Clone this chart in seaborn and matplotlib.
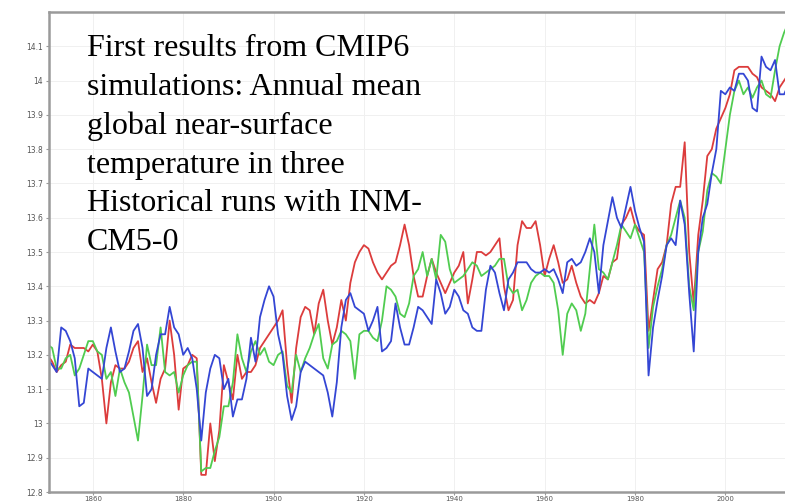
import numpy as np
import pandas as pd
import matplotlib
matplotlib.use('Agg')
import matplotlib.pyplot as plt
import seaborn as sns

years = list(range(1850, 2015))

run_red = [
    13.20, 13.18, 13.15, 13.17, 13.18, 13.23, 13.22, 13.22, 13.22, 13.21,
    13.23, 13.21, 13.13, 13.00, 13.12, 13.17, 13.16, 13.16, 13.18, 13.22,
    13.24, 13.15, 13.19, 13.12, 13.06, 13.13, 13.16, 13.30, 13.20, 13.04,
    13.16, 13.17, 13.20, 13.19, 12.85, 12.85, 13.00, 12.89, 12.98, 13.17,
    13.12, 13.07, 13.20, 13.13, 13.15, 13.15, 13.17, 13.22, 13.24, 13.26,
    13.28, 13.30, 13.33, 13.17, 13.06, 13.22, 13.31, 13.34, 13.33, 13.26,
    13.35, 13.39, 13.30, 13.23, 13.28, 13.36, 13.30, 13.41, 13.47, 13.50,
    13.52, 13.51, 13.47, 13.44, 13.42, 13.44, 13.46, 13.47, 13.52, 13.58,
    13.52, 13.43, 13.37, 13.37, 13.43, 13.48, 13.44, 13.41, 13.38, 13.41,
    13.44, 13.46, 13.50, 13.35, 13.42, 13.50, 13.50, 13.49, 13.50, 13.52,
    13.54, 13.40, 13.33, 13.36, 13.52, 13.59, 13.57, 13.57, 13.59, 13.52,
    13.43, 13.48, 13.52, 13.47, 13.41, 13.42, 13.46, 13.41, 13.37, 13.35,
    13.36, 13.35, 13.38, 13.43, 13.42, 13.47, 13.48, 13.58, 13.60, 13.63,
    13.58, 13.56, 13.55, 13.27, 13.36, 13.45, 13.47, 13.52, 13.64, 13.69,
    13.69, 13.82, 13.50, 13.35, 13.55, 13.65, 13.78, 13.80, 13.86, 13.89,
    13.92, 13.96, 14.03, 14.04, 14.04, 14.04, 14.02, 14.01, 13.98, 13.97,
    13.96, 13.94, 13.98, 14.00, 14.02,
]

run_green = [
    13.23, 13.22, 13.16, 13.16, 13.19, 13.20, 13.14, 13.16, 13.20, 13.24,
    13.24, 13.21, 13.20, 13.13, 13.15, 13.08, 13.16, 13.12, 13.09, 13.02,
    12.95, 13.08, 13.23, 13.17, 13.17, 13.28, 13.15, 13.14, 13.15, 13.09,
    13.14, 13.17, 13.18, 13.18, 12.86, 12.87, 12.87, 12.92, 12.96, 13.05,
    13.05, 13.12, 13.26, 13.19, 13.15, 13.21, 13.24, 13.20, 13.22, 13.18,
    13.17, 13.20, 13.21, 13.11, 13.09, 13.20, 13.15, 13.19, 13.22, 13.26,
    13.29, 13.19, 13.16, 13.23, 13.24, 13.27, 13.26, 13.24, 13.13, 13.26,
    13.27, 13.27, 13.25, 13.24, 13.30, 13.40, 13.39, 13.37, 13.32, 13.31,
    13.35, 13.43, 13.45, 13.50, 13.43, 13.48, 13.42, 13.55, 13.53, 13.45,
    13.41, 13.42, 13.43, 13.45, 13.47, 13.46, 13.43, 13.44, 13.45, 13.46,
    13.48, 13.48, 13.40, 13.38, 13.39, 13.33, 13.36, 13.41, 13.43, 13.44,
    13.43, 13.43, 13.41, 13.33, 13.20, 13.32, 13.35, 13.33, 13.27, 13.32,
    13.45, 13.58, 13.45, 13.44, 13.42, 13.47, 13.52, 13.58, 13.56, 13.54,
    13.58, 13.54, 13.50, 13.22, 13.34, 13.40, 13.45, 13.52, 13.55, 13.60,
    13.65, 13.60, 13.40, 13.33, 13.50, 13.56, 13.68, 13.73, 13.72, 13.70,
    13.80, 13.90, 13.97, 14.00, 13.96, 13.98, 13.95, 13.98, 14.00, 13.96,
    13.95, 14.03, 14.10, 14.14, 14.17,
]

run_blue = [
    13.19, 13.17, 13.15, 13.28, 13.27, 13.24, 13.19, 13.05, 13.06, 13.16,
    13.15, 13.14, 13.13, 13.22, 13.28, 13.21, 13.15, 13.16, 13.21, 13.27,
    13.29, 13.22, 13.08, 13.10, 13.20, 13.26, 13.26, 13.34, 13.28, 13.26,
    13.20, 13.22, 13.19, 13.10, 12.95, 13.09, 13.16, 13.20, 13.19, 13.10,
    13.13, 13.02, 13.07, 13.07, 13.13, 13.25, 13.18, 13.31, 13.36, 13.40,
    13.37, 13.26, 13.20, 13.08, 13.01, 13.05, 13.15, 13.18, 13.17, 13.16,
    13.15, 13.14, 13.09, 13.02, 13.12, 13.28, 13.36, 13.38, 13.34, 13.33,
    13.32, 13.27, 13.30, 13.34, 13.21, 13.22, 13.24, 13.35, 13.28, 13.23,
    13.23, 13.28, 13.34, 13.33, 13.31, 13.29, 13.42, 13.38, 13.32, 13.34,
    13.39, 13.37, 13.33, 13.32, 13.28, 13.27, 13.27, 13.39, 13.46, 13.44,
    13.38, 13.33, 13.42, 13.44, 13.47, 13.47, 13.47, 13.45, 13.44, 13.44,
    13.45, 13.44, 13.45, 13.42, 13.38, 13.47, 13.48, 13.46, 13.47, 13.50,
    13.54, 13.50, 13.38, 13.52, 13.59, 13.66, 13.60, 13.57, 13.63, 13.69,
    13.62, 13.57, 13.53, 13.14, 13.28, 13.36, 13.43, 13.52, 13.54, 13.52,
    13.65, 13.58, 13.38, 13.21, 13.50, 13.60, 13.64, 13.73, 13.80, 13.97,
    13.96, 13.98, 13.97, 14.02, 14.02, 14.00, 13.92, 13.91, 14.07, 14.04,
    14.03, 14.06, 13.96, 13.96, 13.99,
]

run_names = ['run1', 'run2', 'run3']
run_colors = ['#dc3c3c', '#50cc50', '#3446d4']

y_ticks = [12.8, 12.9, 13.0, 13.1, 13.2, 13.3, 13.4, 13.5, 13.6, 13.7, 13.8, 13.9, 14.0, 14.1]
y_tick_labels = ['12.8', '12.9', '13', '13.1', '13.2', '13.3', '13.4', '13.5',
                 '13.6', '13.7', '13.8', '13.9', '14', '14.1']
x_ticks = [1860, 1880, 1900, 1920, 1940, 1960, 1980, 2000]

caption = ("First results from CMIP6\n"
           "simulations: Annual mean\n"
           "global near-surface\n"
           "temperature in three\n"
           "Historical runs with INM-\n"
           "CM5-0")

df = pd.DataFrame({
    'year': years * 3,
    'temp': run_red + run_green + run_blue,
    'run': [run_names[0]] * len(years) + [run_names[1]] * len(years) + [run_names[2]] * len(years),
})

sns.set_style('white')

fig = plt.figure(figsize=(7.85, 5.04), dpi=100)
ax = fig.add_axes([49 / 785, 12 / 504, 1 - 49 / 785, 480 / 504])

sns.lineplot(data=df, x='year', y='temp', hue='run', hue_order=run_names,
             palette=dict(zip(run_names, run_colors)), linewidth=1.3,
             estimator=None, legend=False, ax=ax)

ax.set_xlim(1850.3, 2013.2)
ax.set_ylim(12.8, 14.2)
ax.set_xticks(x_ticks)
ax.set_xticklabels([str(t) for t in x_ticks])
ax.set_yticks(y_ticks)
ax.set_yticklabels(y_tick_labels)
ax.set_xlabel('')
ax.set_ylabel('')

ax.grid(True, color='#f0f0f0', linewidth=0.7)
ax.set_axisbelow(True)
ax.tick_params(left=True, bottom=True, length=2.5, width=0.8, color='#999999',
               labelsize=5.5, labelcolor='#555555', pad=2)
ax.tick_params(axis='x', labelsize=5, pad=0.5)

for side in ['left', 'top', 'bottom']:
    ax.spines[side].set_color('#9a9a9a')
    ax.spines[side].set_linewidth(1.8)
ax.spines['right'].set_visible(False)

fig.text(87 / 785, 1 - 34 / 504, caption, ha='left', va='top',
         fontsize=23, linespacing=1.44, color='black',
         family=['Liberation Serif', 'DejaVu Serif'])

fig.savefig('out.png', dpi=100)
